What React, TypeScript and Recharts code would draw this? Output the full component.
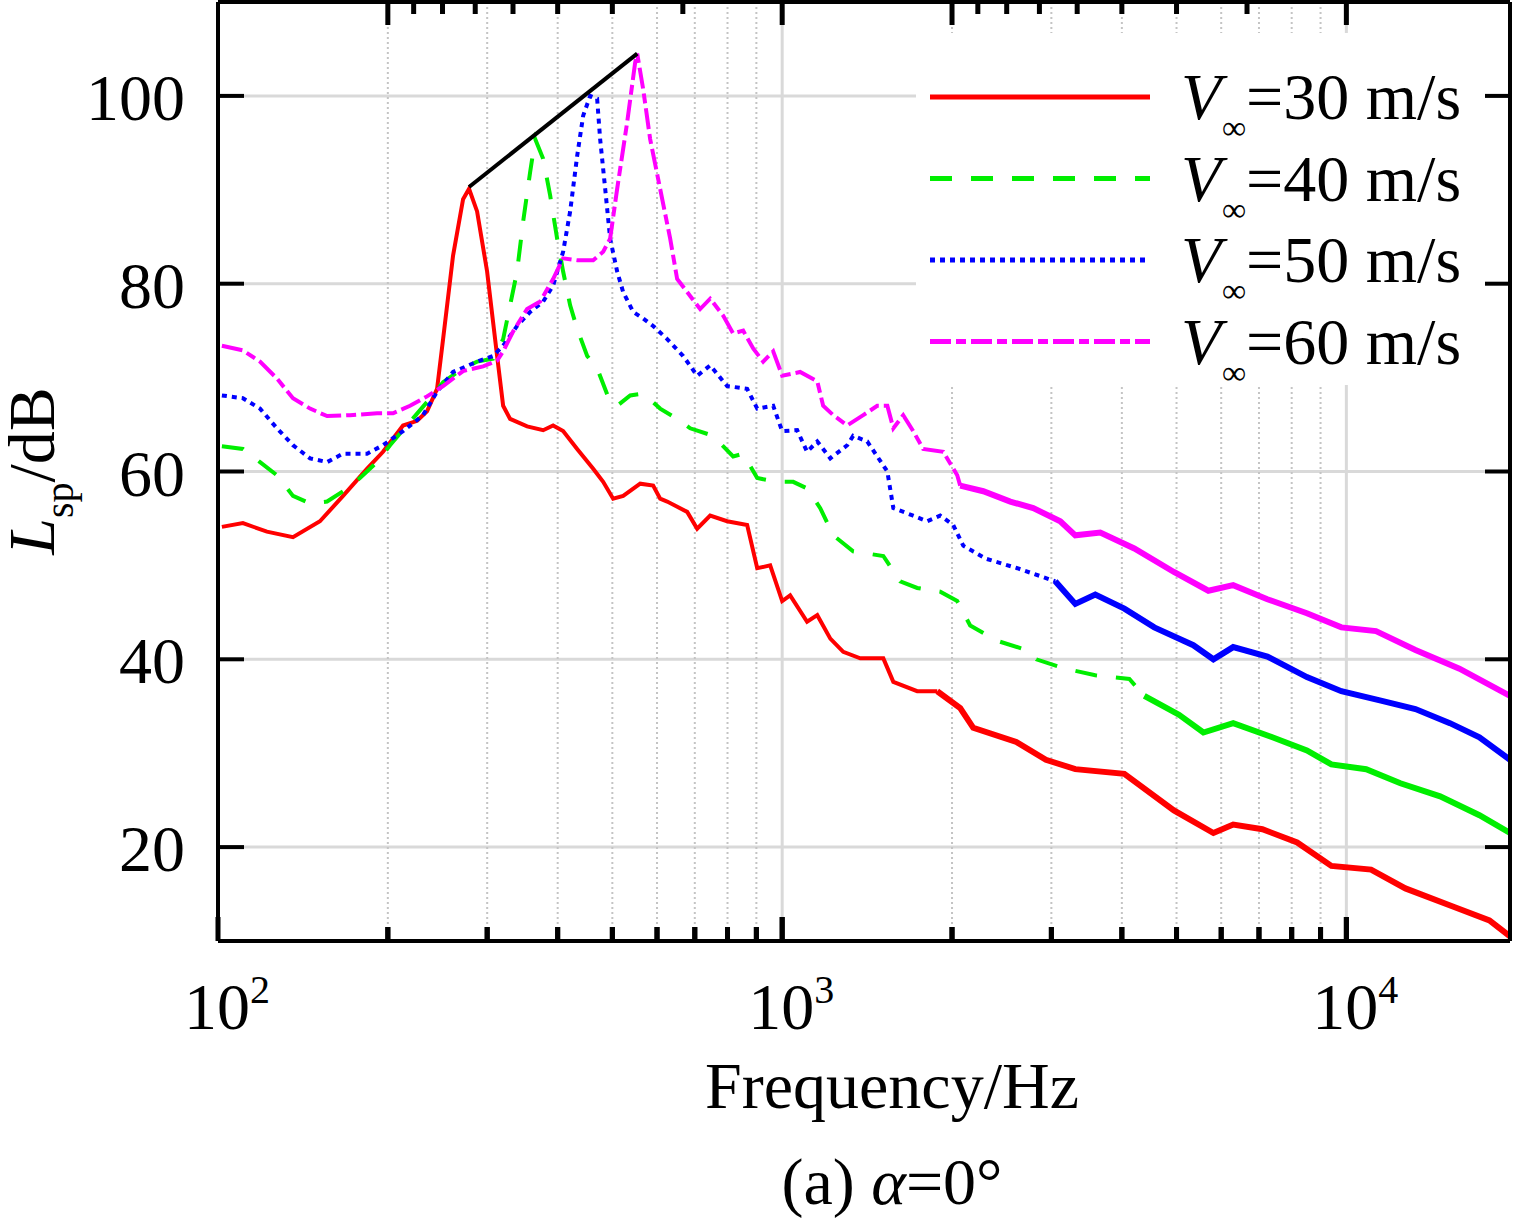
import React from 'react';
import { ComposedChart, Line, Scatter, XAxis, YAxis, CartesianGrid, Legend } from 'recharts';

const FONT = "'Liberation Serif', 'Times New Roman', serif";

// frequency (Hz) and sound pressure level (dB)
const v30Freq = [101.6, 110.7, 122.1, 135.8, 151.6, 166.6, 183.8, 196.1, 212.8, 225.4, 234.7, 244.5, 250.6, 261, 271.9, 278.6, 287.9, 299.9, 312.4, 320.2, 329.4, 353.1, 377, 392.6, 409, 433.1, 462.4, 481.6, 501.6, 522.6, 560.2, 590.6, 607.7, 625.4, 678.6, 706.8, 745.3, 798.8, 866.8, 903.1, 952.2, 1000, 1033, 1107, 1154, 1217, 1283, 1375, 1511, 1574, 1735, 1883, 2068, 2181, 2600, 2934, 3308, 4041, 4947, 5812, 6301, 7098, 8180, 9406, 11061, 12725, 15568, 17929, 19500];
const v30Level = [54.1, 54.5, 53.6, 53.0, 54.7, 57.4, 60.3, 62.1, 64.9, 65.4, 66.4, 68.8, 74.1, 83.0, 89.0, 90.1, 87.7, 81.3, 72.3, 67.0, 65.6, 64.8, 64.4, 64.9, 64.3, 62.4, 60.3, 58.9, 57.1, 57.4, 58.7, 58.5, 57.1, 56.8, 55.7, 53.9, 55.3, 54.7, 54.3, 49.7, 50.0, 46.2, 46.8, 44.0, 44.7, 42.2, 40.8, 40.1, 40.1, 37.6, 36.6, 36.6, 34.8, 32.7, 31.2, 29.3, 28.3, 27.8, 23.9, 21.5, 22.4, 21.9, 20.5, 18.0, 17.6, 15.6, 13.6, 12.2, 10.5];

const v40Freq = [101.6, 110.7, 118.7, 127.2, 135.8, 145.6, 156.1, 166.6, 178.5, 191.4, 201.8, 219, 234.7, 250.6, 271.9, 287.9, 307.3, 320.2, 329.4, 338.9, 347.4, 357.5, 364.9, 377, 387.9, 399.1, 409, 420.9, 433.1, 451.2, 469.9, 495.5, 509.9, 537.8, 567.1, 607.7, 651.4, 686.9, 754.5, 818.6, 852.8, 903.1, 979.7, 1046, 1107, 1168, 1232, 1336, 1511, 1619, 1735, 1906, 2043, 2154, 2395, 2708, 2821, 3176, 3589, 4124, 4384, 5049, 5579, 6301, 7394, 8512, 9406, 10842, 12467, 14661, 17213, 19500];
const v40Level = [62.7, 62.4, 61.0, 59.6, 57.4, 56.6, 56.8, 57.9, 59.3, 61.0, 62.8, 65.3, 67.4, 69.5, 71.0, 71.7, 72.0, 74.1, 77.7, 81.3, 86.6, 91.9, 95.4, 93.3, 89.4, 84.8, 81.3, 77.7, 75.2, 72.3, 71.0, 67.4, 67.0, 68.1, 68.3, 66.7, 65.6, 64.6, 63.8, 61.6, 61.9, 59.3, 58.9, 58.9, 58.2, 56.1, 53.2, 51.5, 51.0, 48.3, 47.6, 47.2, 46.2, 43.6, 42.0, 41.0, 40.0, 39.0, 38.3, 37.9, 36.1, 34.1, 32.2, 33.2, 31.7, 30.3, 28.8, 28.3, 26.8, 25.4, 23.4, 21.5];

const v50Freq = [101.6, 110.7, 118.7, 127.2, 135.8, 145.6, 156.1, 166.6, 183.8, 196.1, 212.8, 230.9, 244.5, 261, 287.9, 307.3, 320.2, 338.9, 357.5, 377, 392.6, 409, 420.9, 433.1, 443.9, 456.7, 469.9, 475.7, 485.6, 495.5, 509.9, 522.6, 544.4, 567.1, 590.6, 625.4, 667.6, 706.8, 745.3, 798.8, 866.8, 903.1, 964, 1000, 1063, 1107, 1154, 1217, 1304, 1336, 1415, 1536, 1574, 1707, 1807, 1906, 2010, 2094, 2300, 2611, 2951, 3048, 3308, 3589, 4041, 4566, 5355, 5812, 6301, 7244, 8512, 9798, 11513, 13256, 15259, 17213, 19500];
const v50Level = [68.1, 67.8, 66.7, 64.6, 62.8, 61.4, 61.0, 61.9, 61.9, 62.8, 64.3, 66.0, 68.5, 70.6, 71.7, 72.3, 73.4, 75.5, 77.0, 78.1, 79.8, 83.4, 87.7, 93.6, 97.9, 100.0, 99.7, 95.4, 90.1, 84.8, 81.3, 79.1, 77.0, 76.3, 75.5, 74.1, 72.3, 70.2, 71.3, 69.1, 68.8, 66.7, 67.0, 64.3, 64.4, 62.1, 63.2, 61.4, 62.8, 63.8, 63.2, 60.0, 56.1, 55.3, 54.7, 55.3, 54.3, 52.1, 50.7, 49.7, 48.6, 48.3, 45.9, 46.9, 45.4, 43.4, 41.5, 40.0, 41.3, 40.3, 38.1, 36.6, 35.6, 34.7, 33.2, 31.7, 29.3];

const v60Freq = [101.6, 110.7, 118.7, 127.2, 135.8, 145.6, 156.1, 171.4, 191.4, 204.3, 219, 234.7, 250.6, 271.9, 295.1, 312.4, 320.2, 333.4, 353.1, 372.4, 392.6, 409, 433.1, 462.4, 481.6, 495.5, 509.9, 531.2, 548.9, 553.4, 567.1, 583.4, 607.7, 633.1, 651.4, 686.9, 715.5, 745.3, 785.9, 818.6, 852.8, 888.4, 925.4, 964, 1000, 1076, 1154, 1182, 1232, 1304, 1392, 1474, 1536, 1574, 1639, 1707, 1778, 1930, 2043, 2068, 2272, 2537, 2786, 3111, 3308, 3663, 4208, 4947, 5694, 6301, 7244, 8512, 9798, 11285, 13256, 15864, 19500];
const v60Level = [73.4, 72.9, 71.7, 69.9, 67.8, 66.7, 65.9, 66.0, 66.2, 66.2, 67.0, 68.0, 69.1, 70.7, 71.2, 71.8, 72.8, 74.9, 77.3, 78.1, 80.5, 82.7, 82.5, 82.5, 83.4, 84.8, 90.1, 97.2, 103.6, 104.5, 100.7, 95.4, 90.1, 84.8, 80.5, 78.7, 77.3, 78.4, 76.6, 74.7, 75.0, 73.1, 71.7, 72.8, 70.2, 70.6, 69.6, 67.0, 66.0, 64.9, 66.0, 67.0, 67.0, 64.6, 66.0, 64.3, 62.4, 62.1, 59.6, 58.5, 57.9, 56.8, 56.1, 54.7, 53.2, 53.5, 51.8, 49.3, 47.3, 47.9, 46.4, 44.9, 43.4, 43.0, 41.0, 39.0, 36.1];

// black guide joining the peaks
const peakFreq = [278.6, 553.4];
const peakLevel = [90.3, 104.5];

const Y_MIN = 10;
const Y_MAX = 110;
const yTicks = [20, 40, 60, 80, 100];
const bottomTicks = [100, 200, 300, 400, 500, 600, 700, 800, 900, 1000, 2000, 3000, 4000, 5000, 6000, 7000, 8000, 9000, 10000];
const decades = [100, 1000, 10000];
const minorGrid = [200, 300, 400, 500, 600, 700, 800, 900, 2000, 3000, 4000, 5000, 6000, 7000, 8000, 9000];
const majorGrid = [1000, 10000];
// top axis is marked in period (ms)
const topPeriods = [5, 4.5, 4, 3.5, 3, 2.5, 2, 1.5, 1, 0.5, 0.45, 0.4, 0.35, 0.3, 0.25, 0.2, 0.15, 0.1];
const topMajorPeriods = [5, 1, 0.5, 0.1];
const topTicks = topPeriods.map(p => 1000 / p);

const series = [
  { name: 'V∞=30 m/s', speed: '30', color: '#ff0000', dash: undefined as string | undefined, cut: 2000, freq: v30Freq, level: v30Level },
  { name: 'V∞=40 m/s', speed: '40', color: '#00ee00', dash: '22 19', cut: 4400, freq: v40Freq, level: v40Level },
  { name: 'V∞=50 m/s', speed: '50', color: '#0000ff', dash: '5 5', cut: 3300, freq: v50Freq, level: v50Level },
  { name: 'V∞=60 m/s', speed: '60', color: '#ff00ff', dash: '21 5 10 5', cut: 2100, freq: v60Freq, level: v60Level },
];

const toPoints = (freq: number[], level: number[]) => freq.map((f, i) => ({ f, L: level[i] }));

const splitAt = (pts: { f: number; L: number }[], cut: number) => {
  const low = pts.filter(p => p.f <= cut);
  const high = pts.slice(low.length - 1);
  return [low, high];
};

const isDecade = (v: number) => decades.some(d => Math.abs(d - v) < 1e-6);
const isTopMajor = (v: number) => topMajorPeriods.some(p => Math.abs(1000 / p - v) < 1e-6);

// inward tick marks along the bottom and top frame, placed through the axis scales
const bottomMarks = bottomTicks.slice(1).map(f => ({ f, L: Y_MIN }));
const topMarks = topTicks.map(f => ({ f, L: Y_MAX }));

const BottomMark = (props: any) => {
  const { cx, cy, payload } = props;
  const len = isDecade(payload.f) ? 24 : 14;
  return <rect x={cx - 2.5} y={cy - len} width={5} height={len} fill="#000" />;
};

const TopMark = (props: any) => {
  const { cx, cy, payload } = props;
  const len = isTopMajor(payload.f) ? 23 : 12;
  return <rect x={cx - 2.5} y={cy} width={5} height={len} fill="#000" />;
};

const BottomTick = (props: any) => {
  const { x, y, payload } = props;
  const v = payload.value;
  const major = isDecade(v);
  const len = major ? 24 : 14;
  return (
    <g>
      <rect x={x - 2.5} y={y - len} width={5} height={len} fill="#000" />
      {major && (
        <text x={x + 9} y={y + 88} textAnchor="middle" fontSize={66} fontFamily={FONT} fill="#000" stroke="none">
          10<tspan dy={-26} fontSize={40}>{Math.round(Math.log10(v))}</tspan>
        </text>
      )}
    </g>
  );
};

const LeftTick = (props: any) => {
  const { x, y, payload } = props;
  return (
    <g>
      <line x1={x} y1={y} x2={x + 26} y2={y} stroke="#000" strokeWidth={4} />
      <text x={x - 33} y={y + 24} textAnchor="end" fontSize={66} fontFamily={FONT} fill="#000" stroke="none">
        {payload.value}
      </text>
    </g>
  );
};

const RightTick = (props: any) => {
  const { x, y } = props;
  return <line x1={x} y1={y} x2={x - 25} y2={y} stroke="#000" strokeWidth={4} />;
};

const XTitles = () => (
  <g fontFamily={FONT} fill="#000">
    <text x={892} y={1108} textAnchor="middle" fontSize={66}>Frequency/Hz</text>
    <text x={892} y={1204} textAnchor="middle" fontSize={66}>
      (a) <tspan fontStyle="italic">α</tspan>=0°
    </text>
  </g>
);

const YTitle = () => (
  <text transform="translate(54,471) rotate(-90)" textAnchor="middle" fontSize={66} fontFamily={FONT} fill="#000">
    <tspan fontStyle="italic">L</tspan>
    <tspan dy={19} fontSize={40}>sp</tspan>
    <tspan dy={-19}>/dB</tspan>
  </text>
);

const LegendBox = (props: any) => {
  const names = (props.payload || []).map((p: any) => p.value);
  const rows = series.filter(s => names.includes(s.name));
  return (
    <svg width={569} height={380} style={{ display: 'block', overflow: 'visible' }}>
      <rect x={0} y={0} width={569} height={352} fill="#fff" />
      {rows.map((s, i) => {
        const y = 64 + i * 81.5;
        return (
          <g key={s.name} fontFamily={FONT} fill="#000">
            <line x1={14} x2={234} y1={y} y2={y} stroke={s.color} strokeWidth={5} strokeDasharray={s.dash} />
            <text x={265} y={y + 22} fontSize={66} fontStyle="italic">V</text>
            <text x={306} y={y + 42} fontSize={34}>∞</text>
            <text x={330} y={y + 22} fontSize={66}>={s.speed} m/s</text>
          </g>
        );
      })}
    </svg>
  );
};

const App: React.FC = () => {
  return (
    <div style={{ position: 'absolute', left: 0, top: 0, width: 1519, height: 1221, background: '#fff' }}>
      <ComposedChart width={1519} height={1221} margin={{ top: 1, right: 8, bottom: 220, left: 118 }} style={{ fontFamily: FONT }}>
        <CartesianGrid vertical={false} stroke="#d9d9d9" strokeWidth={3} />
        <CartesianGrid horizontal={false} stroke="#c4c4c4" strokeWidth={2} strokeDasharray="2 3" verticalValues={minorGrid} />
        <CartesianGrid horizontal={false} stroke="#d9d9d9" strokeWidth={3} verticalValues={majorGrid} />
        <XAxis
          type="number"
          dataKey="f"
          scale="log"
          domain={[100, 19500]}
          allowDataOverflow
          ticks={bottomTicks}
          interval={0}
          tickSize={0}
          tickMargin={0}
          tickLine={false}
          tick={<BottomTick />}
          axisLine={{ stroke: '#000', strokeWidth: 4 }}
          height={60}
          label={<XTitles />}
        />
        <XAxis
          xAxisId="top"
          orientation="top"
          type="number"
          dataKey="f"
          scale="log"
          domain={[100, 19500]}
          allowDataOverflow
          ticks={topTicks}
          tick={false}
          tickLine={false}
          axisLine={{ stroke: '#000', strokeWidth: 4 }}
          height={1}
        />
        <YAxis
          type="number"
          domain={[Y_MIN, Y_MAX]}
          allowDataOverflow
          ticks={yTicks}
          interval={0}
          tickSize={0}
          tickMargin={0}
          tickLine={false}
          tick={<LeftTick />}
          axisLine={{ stroke: '#000', strokeWidth: 4 }}
          width={100}
          label={<YTitle />}
        />
        <YAxis
          yAxisId="right"
          orientation="right"
          type="number"
          domain={[Y_MIN, Y_MAX]}
          allowDataOverflow
          ticks={yTicks}
          interval={0}
          tickSize={0}
          tickMargin={0}
          tickLine={false}
          tick={<RightTick />}
          axisLine={{ stroke: '#000', strokeWidth: 4 }}
          width={1}
        />
        <Legend
          layout="horizontal"
          verticalAlign="middle"
          align="center"
          content={<LegendBox />}
          wrapperStyle={{ left: 916, top: 33, width: 569, height: 352, lineHeight: 0 }}
        />
        <Scatter data={bottomMarks} dataKey="L" shape={<BottomMark />} legendType="none" isAnimationActive={false} />
        <Scatter data={topMarks} dataKey="L" shape={<TopMark />} legendType="none" isAnimationActive={false} />
        {series.map(s => {
          const [low, high] = splitAt(toPoints(s.freq, s.level), s.cut);
          return [
            <Line
              key={s.name}
              data={low}
              dataKey="L"
              name={s.name}
              type="linear"
              stroke={s.color}
              strokeWidth={4}
              strokeDasharray={s.dash}
              dot={false}
              activeDot={false}
              isAnimationActive={false}
            />,
            high.length > 1 ? (
              <Line
                key={s.name + '-hf'}
                data={high}
                dataKey="L"
                name={s.name + ' hf'}
                type="linear"
                stroke={s.color}
                strokeWidth={6}
                dot={false}
                activeDot={false}
                legendType="none"
                isAnimationActive={false}
              />
            ) : null,
          ];
        })}
        <Line
          xAxisId="top"
          yAxisId="right"
          data={toPoints(peakFreq, peakLevel)}
          dataKey="L"
          name="peak trend"
          type="linear"
          stroke="#000"
          strokeWidth={4}
          dot={false}
          activeDot={false}
          legendType="none"
          isAnimationActive={false}
        />
      </ComposedChart>
    </div>
  );
};

export default App;
